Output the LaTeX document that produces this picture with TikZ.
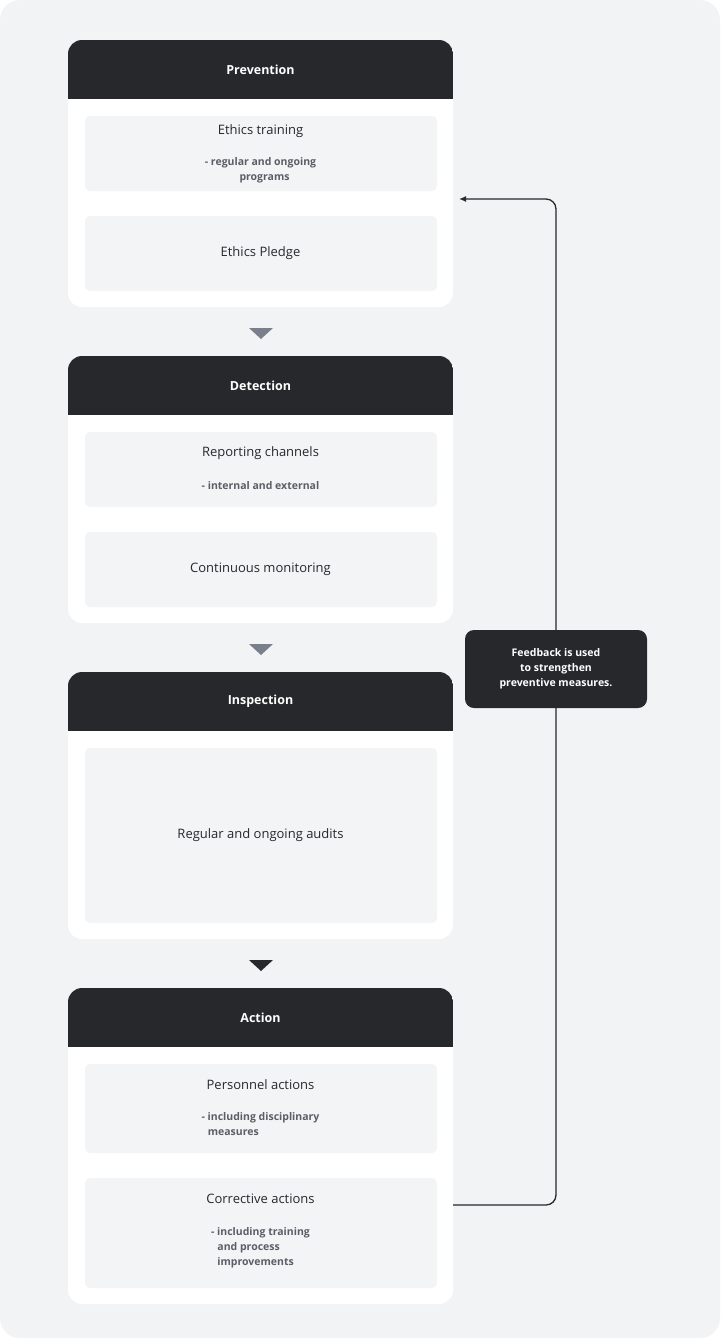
\documentclass[tikz,border=0pt]{standalone}
\usepackage{fontspec}
\setmainfont{Open Sans}
\usetikzlibrary{arrows.meta}
\definecolor{bg}{HTML}{F2F3F5}
\definecolor{dark}{HTML}{26282C}
\definecolor{inner}{HTML}{F3F4F6}
\definecolor{sub}{HTML}{5A5E66}
\definecolor{tri}{HTML}{7A7F8C}
\begin{document}
\begin{tikzpicture}[x=1pt,y=-1pt,
 card/.style={fill=white,rounded corners=14pt},
 head/.style={fill=dark},
 box/.style={fill=inner,rounded corners=5pt},
 htxt/.style={text=white,font=\fontsize{12.5}{15}\selectfont\bfseries},
 mtxt/.style={text=dark,font=\fontsize{13}{16}\selectfont,inner sep=0pt},
 stxt/.style={text=sub,font=\fontsize{10.5}{15}\selectfont\bfseries,inner sep=0pt,align=left},
 arr/.style={fill=#1}]
\useasboundingbox (0,0) rectangle (720,1338);
\fill[bg,rounded corners=20pt] (0,0) rectangle (720,1338);
% cards
\foreach \t/\b/\n in {40/307/p,356/623/d,672/939/i,988/1304/a}{
 \fill[card] (68,\t) rectangle (453,\b);
 \begin{scope}
 \clip[rounded corners=14pt] (68,\t) rectangle (453,\b);
 \fill[head] (68,\t) rectangle (453,\t+59);
 \end{scope}
 \node[htxt] (h\n) at (260.5,\t+29.5) {};
}
\node[htxt] at (260.5,69.5) {Prevention};
\node[htxt] at (260.5,385.5) {Detection};
\node[htxt] at (260.5,701.5) {Inspection};
\node[htxt] at (260.5,1017.5) {Action};
% boxes
\foreach \t/\b in {116/191,216/291,432/507,532/607,748/923,1064/1153,1178/1288}
 \fill[box] (85,\t) rectangle (437,\b);
\node[mtxt] (b1) at (260.5,131) {Ethics training};
\node[stxt] at (260.5,170) {- regular and ongoing\\\hspace*{3.3em}programs};
\node[mtxt] (b2) at (260.5,253) {Ethics Pledge};
\node[mtxt] (b3) at (260.5,453) {Reporting channels};
\node[stxt] at (260.5,486) {- internal and external};
\node[mtxt] (b4) at (260.5,569) {Continuous monitoring};
\node[mtxt] (b5) at (260.5,835) {Regular and ongoing audits};
\node[mtxt] (b6) at (260.5,1085) {Personnel actions};
\node[stxt] at (260.5,1124) {- including disciplinary\\\hspace*{0.6em}measures};
\node[mtxt] (b7) at (260.5,1199) {Corrective actions};
\node[stxt] at (260.5,1248) {- including training\\\hspace*{0.6em}and process\\\hspace*{0.6em}improvements};
% triangles
\fill[tri] (249,328) -- (273,328) -- (261,339) -- cycle;
\fill[tri] (249,644) -- (273,644) -- (261,655) -- cycle;
\fill[dark] (249,960) -- (273,960) -- (261,971) -- cycle;
% feedback
\coordinate (fs) at (453,1205);
\coordinate (fe) at (459,199);
\draw[dark,line width=1.3pt,rounded corners=10pt,-{Latex[length=7pt,width=6pt]}]
 (fs) -- (556,1205) -- (556,199) -- (fe);
\node[fill=dark,rounded corners=9pt,minimum width=182pt,minimum height=78pt,
 text=white,font=\fontsize{10.5}{15}\selectfont\bfseries,align=center] (fb) at (556,669)
 {Feedback is used\\to strengthen\\preventive measures.};
\end{tikzpicture}
\end{document}
